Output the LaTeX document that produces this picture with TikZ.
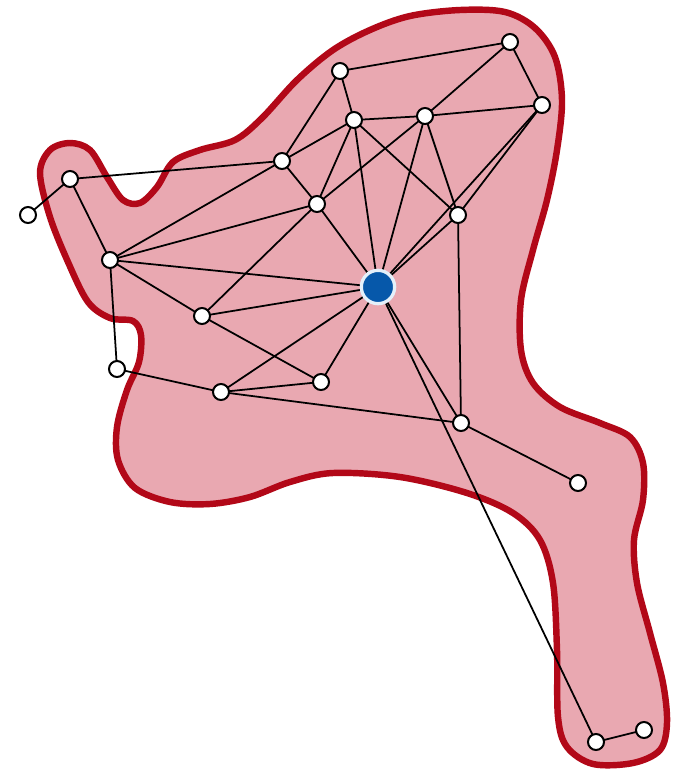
\documentclass[tikz,border=0pt]{standalone}
\pgfdeclarelayer{regionlayer}
\pgfdeclarelayer{edgelayer}
\pgfsetlayers{regionlayer,edgelayer,main}
\begin{document}
\begin{tikzpicture}[x=0.03cm,y=-0.03cm,
  vtx/.style={circle,draw=black,fill=white,line width=1.7pt,minimum size=0.48cm,inner sep=0pt},
  hub/.style={circle,draw={rgb,255:red,228;green,240;blue,250},fill={rgb,255:red,6;green,88;blue,170},line width=2.8pt,minimum size=1.0cm,inner sep=0pt},
  edge/.style={draw=black,line width=1.5pt},
  region/.style={draw={rgb,255:red,178;green,8;blue,24},fill={rgb,255:red,233;green,168;blue,177},line width=5.5pt,line join=round}]
\useasboundingbox (0,0) rectangle (673,772);
\begin{pgfonlayer}{regionlayer}
\path[region] plot[smooth cycle,tension=0.55] coordinates {
(40,173) (50,150) (70,143) (90,150) (107,177) (123,200) (140,203) (157,187) (173,162) (200,150) (235,140) (262,118) (297,80) (333,50) (370,30) (410,16) (460,10) (505,12) (535,28) (555,57) (562,100) (557,150) (547,200) (533,250) (521,300) (521,350) (533,383) (560,407) (600,423) (630,437) (643,463) (643,500) (634,540) (637,583) (650,633) (663,683) (667,723) (660,750) (633,763) (593,764) (567,747) (558,717) (557,650) (553,583) (540,540) (513,513) (467,493) (400,477) (333,473) (290,482) (250,497) (210,504) (170,502) (135,488) (118,460) (117,427) (127,390) (139,362) (141,335) (133,321) (110,318) (88,302) (68,262) (50,217)
};
\end{pgfonlayer}
% nodes
\node[vtx] (A) at (28,215) {};
\node[vtx] (B) at (70,179) {};
\node[vtx] (C) at (110,260) {};
\node[vtx] (D) at (117,369) {};
\node[vtx] (E) at (202,316) {};
\node[vtx] (F) at (221,392) {};
\node[vtx] (G) at (321,382) {};
\node[vtx] (H) at (282,161) {};
\node[vtx] (I) at (317,204) {};
\node[vtx] (J) at (340,71) {};
\node[vtx] (K) at (354,120) {};
\node[vtx] (L) at (425,116) {};
\node[vtx] (M) at (510,42) {};
\node[vtx] (N) at (542,105) {};
\node[vtx] (O) at (458,215) {};
\node[vtx] (P) at (461,423) {};
\node[vtx] (Q) at (578,483) {};
\node[vtx] (R) at (596,742) {};
\node[vtx] (S) at (644,730) {};
\node[hub] (X) at (378,287) {};
% edges
\begin{pgfonlayer}{edgelayer}
\foreach \a/\b in {A/B,B/H,B/C,C/H,C/I,C/X,C/E,C/D,D/F,F/G,F/X,F/P,E/I,E/X,E/G,H/I,H/J,H/K,I/K,I/L,I/X,J/K,J/M,K/L,K/X,K/O,L/M,L/N,L/X,L/O,M/N,N/O,N/X,O/X,O/P,X/P,X/R,P/Q,R/S,G/X}
  \draw[edge] (\a.center) -- (\b.center);
\end{pgfonlayer}
\end{tikzpicture}
\end{document}
